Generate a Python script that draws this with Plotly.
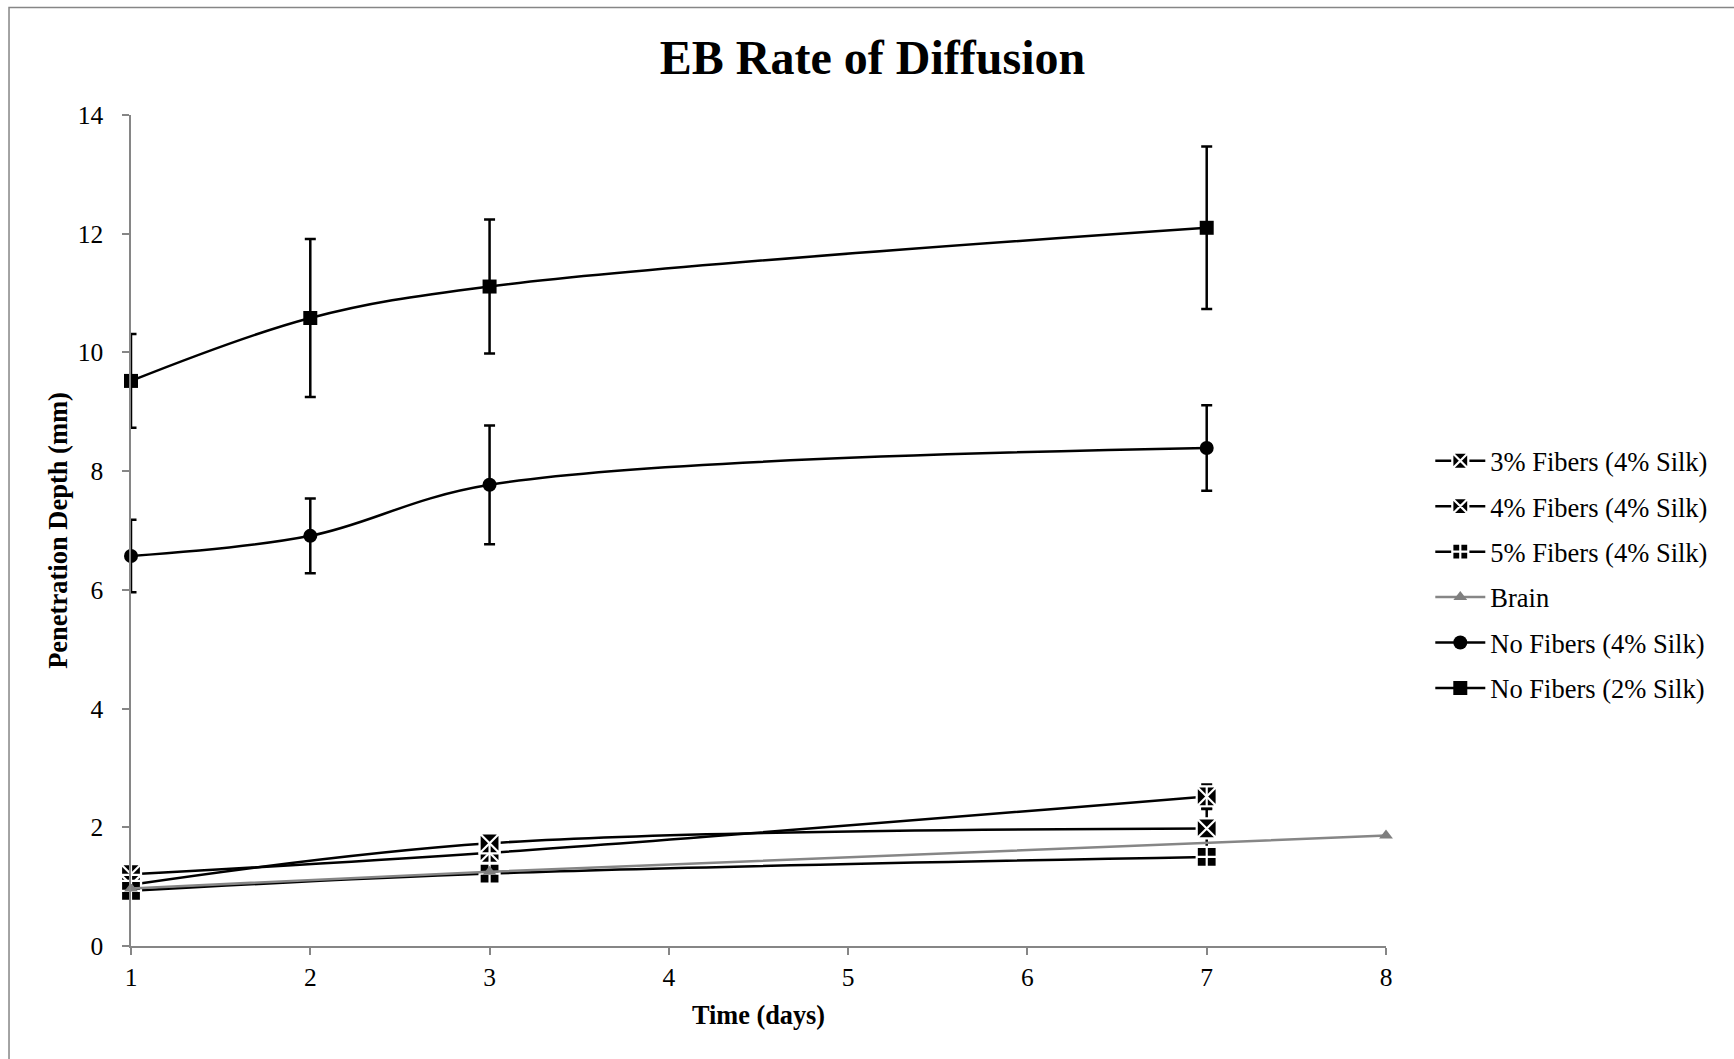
import plotly.graph_objects as go

# ---- data ----
days_fib = [1, 3, 7]
days_nf = [1, 2, 3, 7]
days_brain = [1, 3, 8]

fib3 = [1.21, 1.57, 2.52]
fib3_err = [0.08, 0.08, 0.20]
fib4 = [1.03, 1.73, 1.98]
fib4_err = [0.08, 0.08, 0.33]
fib5 = [0.93, 1.22, 1.50]
fib5_err = [0.06, 0.06, 0.10]
brain = [0.97, 1.25, 1.86]
nf4 = [6.57, 6.91, 7.77, 8.39]
nf4_err = [0.61, 0.63, 1.00, 0.72]
nf2 = [9.52, 10.58, 11.11, 12.10]
nf2_err = [0.79, 1.33, 1.13, 1.37]

x_ticks = [1, 2, 3, 4, 5, 6, 7, 8]
y_ticks = [0, 2, 4, 6, 8, 10, 12, 14]

FONT = "Liberation Serif, Times New Roman, serif"
AX = "#868686"
W, H = 1734, 1059
L, R, T, B = 130.5, 1734 - 1385.7, 115, 1059 - 946
PW, PH = W - L - R, H - T - B

fig = go.Figure()

def err(vals, color="black"):
    return dict(type="data", array=vals, visible=True, color=color, thickness=2.5, width=5.5)

def add(name, x, y, e, symbol, size, color="black", mline="white", mlw=0, lcolor="black"):
    fig.add_trace(go.Scatter(
        x=x, y=y, name=name, mode="lines+markers",
        line=dict(color=lcolor, width=2.5, shape="spline"),
        marker=dict(symbol=symbol, size=size, color=color, line=dict(color=mline, width=mlw)),
        error_y=err(e) if e is not None else None,
        cliponaxis=False, legendgroup=name,
    ))

add("3% Fibers (4% Silk)", days_fib, fib3, fib3_err, "square-x", 20, mlw=2.2)
add("4% Fibers (4% Silk)", days_fib, fib4, fib4_err, "square-x", 20, mlw=2.2)
add("5% Fibers (4% Silk)", days_fib, fib5, fib5_err, "square-cross", 20, mlw=2.2)
add("Brain", days_brain, brain, None, "triangle-up", 12, color="#7f7f7f", mlw=0, lcolor=AX)
add("No Fibers (4% Silk)", days_nf, nf4, nf4_err, "circle", 14)
add("No Fibers (2% Silk)", days_nf, nf2, nf2_err, "square", 14)

# asterisk vertical stroke for 3% marker
fig.add_trace(go.Scatter(
    x=days_fib, y=fib3, mode="markers", showlegend=False, hoverinfo="skip",
    marker=dict(symbol="line-ns-open", size=14, color="white", line=dict(color="white", width=2.2)),
    cliponaxis=False,
))

fig.update_layout(
    width=W, height=H,
    margin=dict(l=L, r=R, t=T, b=B),
    paper_bgcolor="white", plot_bgcolor="white",
    font=dict(family=FONT, size=25.5, color="black"),
    title=dict(text="<b>EB Rate of Diffusion</b>", x=872.5 / W, xanchor="center",
               y=1 - 57 / H, yanchor="middle", yref="container",
               font=dict(family=FONT, size=48, color="black")),
    showlegend=True,
    legend=dict(x=(1430 - L) / PW, xanchor="left", y=(946 - 574.5) / PH, yanchor="middle",
                font=dict(family=FONT, size=26.5, color="black"),
                tracegroupgap=8, itemwidth=50, bgcolor="rgba(0,0,0,0)", traceorder="grouped"),
    xaxis=dict(range=[1, 8], tickvals=x_ticks, showgrid=False, zeroline=False,
               showline=True, linecolor=AX, linewidth=1.5,
               ticks="outside", ticklen=7, tickcolor=AX, tickwidth=1.5,
               ticklabelstandoff=1,
               title=dict(text="<b>Time (days)</b>", standoff=14,
                          font=dict(family=FONT, size=26.3))),
    yaxis=dict(range=[0, 14], tickvals=y_ticks, showgrid=False, zeroline=False,
               showline=True, linecolor=AX, linewidth=1.5,
               ticks="outside", ticklen=7, tickcolor=AX, tickwidth=1.5,
               ticklabelstandoff=14,
               title=dict(text="<b>Penetration Depth (mm)</b>", standoff=2,
                          font=dict(family=FONT, size=26.5))),
    shapes=[dict(type="rect", xref="paper", yref="paper",
                 x0=(8.5 - L) / PW, x1=(1745 - L) / PW,
                 y0=(946 - 1070) / PH, y1=(946 - 7.5) / PH,
                 line=dict(color=AX, width=1.5), fillcolor="rgba(0,0,0,0)", layer="below")],
)

fig.write_html("out.html")
